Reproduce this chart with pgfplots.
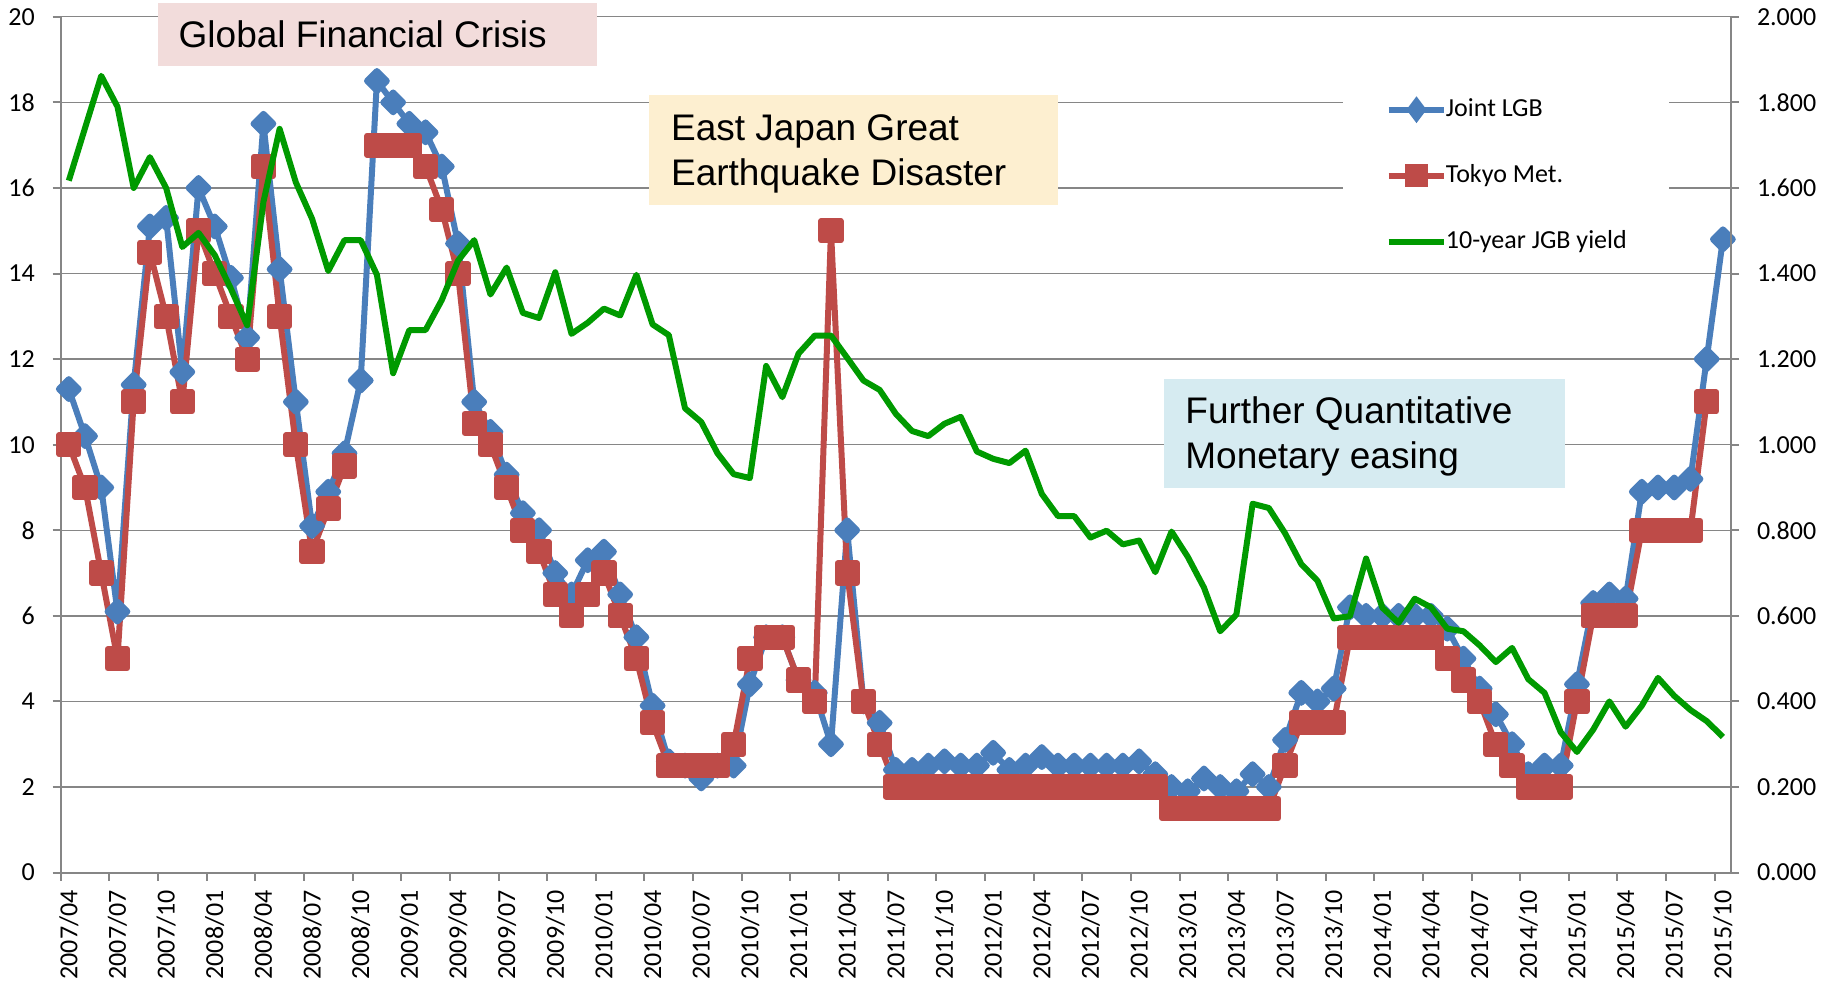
\documentclass[border=0pt]{standalone}
\usepackage{pgfplots}
\pgfplotsset{compat=1.18}
\usepackage{pgfplotstable}
\usepackage{fontspec}
\setmainfont{Carlito}
\newfontfamily\arialfont{Liberation Sans}
\definecolor{lgb}{HTML}{4A7EBB}
\definecolor{tmet}{HTML}{BE4B48}
\definecolor{jgb}{HTML}{009A00}
\definecolor{gridc}{HTML}{868686}
\definecolor{pinkbox}{HTML}{F2DCDB}
\definecolor{peachbox}{HTML}{FDEFD0}
\definecolor{bluebox}{HTML}{D6EBF1}

\pgfplotstableread{
n lgb tmet
0 11.3 10
1 10.2 9
2 9.0 7
3 6.1 5
4 11.4 11
5 15.1 14.5
6 15.3 13
7 11.7 11
8 16.0 15
9 15.1 14
10 13.9 13
11 12.5 12
12 17.5 16.5
13 14.1 13
14 11.0 10
15 8.1 7.5
16 8.9 8.5
17 9.8 9.5
18 11.5 nan
19 18.5 17
20 18.0 17
21 17.5 17
22 17.3 16.5
23 16.5 15.5
24 14.7 14
25 11.0 10.5
26 10.3 10
27 9.3 9
28 8.4 8
29 8.0 7.5
30 7.0 6.5
31 6.5 6
32 7.3 6.5
33 7.5 7
34 6.5 6
35 5.5 5
36 3.9 3.5
37 2.6 2.5
38 2.5 2.5
39 2.2 2.5
40 2.5 2.5
41 2.5 3
42 4.4 5
43 5.5 5.5
44 5.5 5.5
45 4.5 4.5
46 4.2 4
47 3.0 15
48 8.0 7
49 4.0 4
50 3.5 3
51 2.4 2
52 2.4 2
53 2.5 2
54 2.6 2
55 2.5 2
56 2.5 2
57 2.8 2
58 2.4 2
59 2.5 2
60 2.7 2
61 2.5 2
62 2.5 2
63 2.5 2
64 2.5 2
65 2.5 2
66 2.6 2
67 2.3 2
68 2.0 1.5
69 1.9 1.5
70 2.2 1.5
71 2.0 1.5
72 1.9 1.5
73 2.3 1.5
74 2.0 1.5
75 3.1 2.5
76 4.2 3.5
77 4.0 3.5
78 4.3 3.5
79 6.2 5.5
80 6.0 5.5
81 6.0 5.5
82 6.0 5.5
83 6.0 5.5
84 6.0 5.5
85 5.7 5
86 5.0 4.5
87 4.3 4
88 3.7 3
89 3.0 2.5
90 2.3 2
91 2.5 2
92 2.5 2
93 4.4 4
94 6.3 6
95 6.5 6
96 6.4 6
97 8.9 8
98 9.0 8
99 9.0 8
100 9.2 8
101 12.0 11
102 14.8 nan
}\lgbdata

\pgfplotstableread{
n y
0 1.617
1 1.740
2 1.862
3 1.790
4 1.600
5 1.672
6 1.600
7 1.462
8 1.495
9 1.443
10 1.364
11 1.279
12 1.567
13 1.738
14 1.613
15 1.528
16 1.406
17 1.478
18 1.478
19 1.397
20 1.167
21 1.268
22 1.268
23 1.338
24 1.430
25 1.478
26 1.351
27 1.414
28 1.308
29 1.296
30 1.403
31 1.259
32 1.285
33 1.318
34 1.302
35 1.397
36 1.281
37 1.256
38 1.085
39 1.053
40 0.980
41 0.931
42 0.922
43 1.184
44 1.111
45 1.213
46 1.255
47 1.255
48 1.203
49 1.150
50 1.128
51 1.072
52 1.032
53 1.020
54 1.049
55 1.065
56 0.984
57 0.967
58 0.957
59 0.986
60 0.885
61 0.833
62 0.833
63 0.783
64 0.799
65 0.767
66 0.776
67 0.702
68 0.797
69 0.738
70 0.666
71 0.564
72 0.603
73 0.862
74 0.852
75 0.793
76 0.721
77 0.682
78 0.594
79 0.599
80 0.734
81 0.619
82 0.584
83 0.640
84 0.620
85 0.570
86 0.564
87 0.531
88 0.492
89 0.525
90 0.452
91 0.420
92 0.328
93 0.282
94 0.334
95 0.400
96 0.341
97 0.390
98 0.455
99 0.413
100 0.380
101 0.354
102 0.317
}\jgbdata

\begin{document}
\begin{tikzpicture}
\pgfplotsset{
  every axis/.append style={
    scale only axis, width=835.15pt, height=427.9pt,
    at={(0,0)}, anchor=south west,
    xmin=-0.5, xmax=102.5,
    clip=false,
    tick align=outside,
    axis line style={-, draw=gridc, line width=1pt},
    tick style={draw=gridc, line width=1pt},
    major tick length=4pt, minor tick length=4pt,
    /pgf/number format/assume math mode=true,
    tick label style={font=\fontsize{13}{15}\selectfont, inner sep=0pt},
  }
}
\begin{axis}[
  ymin=0, ymax=20,
  axis x line*=bottom, axis y line*=left,
  xtick={0,3,...,102},
  xticklabels={2007/04,2007/07,2007/10,2008/01,2008/04,2008/07,2008/10,2009/01,2009/04,2009/07,2009/10,2010/01,2010/04,2010/07,2010/10,2011/01,2011/04,2011/07,2011/10,2012/01,2012/04,2012/07,2012/10,2013/01,2013/04,2013/07,2013/10,2014/01,2014/04,2014/07,2014/10,2015/01,2015/04,2015/07,2015/10},
  minor xtick={-0.5,2.5,...,102.5},
  major x tick style={draw=none},
  ytick={0,2,...,20},
  ymajorgrids, major grid style={draw=gridc, line width=0.7pt},
  xticklabel style={yshift=-4.7pt, rotate=90, anchor=east},
  yticklabel style={xshift=-8.8pt, anchor=east},
]
\addplot[lgb, line width=3pt, line join=round, mark=square*, mark size=3.5pt,
  mark options={rotate=45, draw=none, fill=lgb}] table[x=n, y=lgb] {\lgbdata};
\addplot[tmet, line width=3pt, line join=round, mark=square*, mark size=4.8pt,
  mark options={draw=none, fill=tmet}, unbounded coords=jump] table[x=n, y=tmet] {\lgbdata};
\end{axis}

\fill[pinkbox] (48.65pt,403.3pt) rectangle (268.15pt,434.8pt);
\node[anchor=base west, inner sep=0pt, font=\arialfont\fontsize{18.5}{22.5}\selectfont] at (58.8pt,412.45pt) {Global Financial Crisis};
\fill[peachbox] (294.15pt,333.9pt) rectangle (498.5pt,388.6pt);
\node[anchor=base west, inner sep=0pt, font=\arialfont\fontsize{18.5}{22.5}\selectfont] at (305pt,366.15pt) {East Japan Great};
\node[anchor=base west, inner sep=0pt, font=\arialfont\fontsize{18.5}{22.5}\selectfont] at (305pt,343.7pt) {Earthquake Disaster};
\fill[bluebox] (551.65pt,192.2pt) rectangle (752.15pt,246.9pt);
\node[anchor=base west, inner sep=0pt, font=\arialfont\fontsize{18.5}{22.5}\selectfont] at (562.15pt,224.45pt) {Further Quantitative};
\node[anchor=base west, inner sep=0pt, font=\arialfont\fontsize{18.5}{22.5}\selectfont] at (562.15pt,202pt) {Monetary easing};

\begin{axis}[
  ymin=0, ymax=2,
  axis y line*=right, axis x line=none,
  ytick={0,0.2,0.4,0.6,0.8,1.0,1.2,1.4,1.6,1.8,2.0},
  yticklabel style={xshift=8.8pt, anchor=west, /pgf/number format/.cd, fixed, fixed zerofill, precision=3},
  legend cell align=left,
  legend image code/.code={\draw[mark repeat=2,mark phase=2,#1] plot coordinates {(0pt,0pt) (13.9pt,0pt) (27.8pt,0pt)};},
  legend style={at={(axis description cs:0.7677,0.9258)}, anchor=north west,
    draw=none, fill=white, inner xsep=21.15pt, inner ysep=8pt,
    row sep=20pt, font=\fontsize{13}{15}\selectfont,
    nodes={inner sep=0pt, text height=10pt, text depth=3pt},
    /tikz/column 1/.style={column sep=-0.7pt}},
]
\addlegendimage{lgb, line width=3pt, mark=diamond*, mark size=4.2pt, mark options={draw=none, fill=lgb}}
\addlegendentry{Joint LGB}
\addlegendimage{tmet, line width=3pt, mark=square*, mark size=4.4pt, mark options={draw=none, fill=tmet}}
\addlegendentry{Tokyo Met.}
\addplot[jgb, line width=3pt, line join=round, no marks] table[x=n, y=y] {\jgbdata};
\addlegendentry{10-year JGB yield}
\end{axis}
\pgfresetboundingbox
\path[use as bounding box] (-30.35pt,-55.2pt) rectangle (886.15pt,436.3pt);
\end{tikzpicture}
\end{document}
